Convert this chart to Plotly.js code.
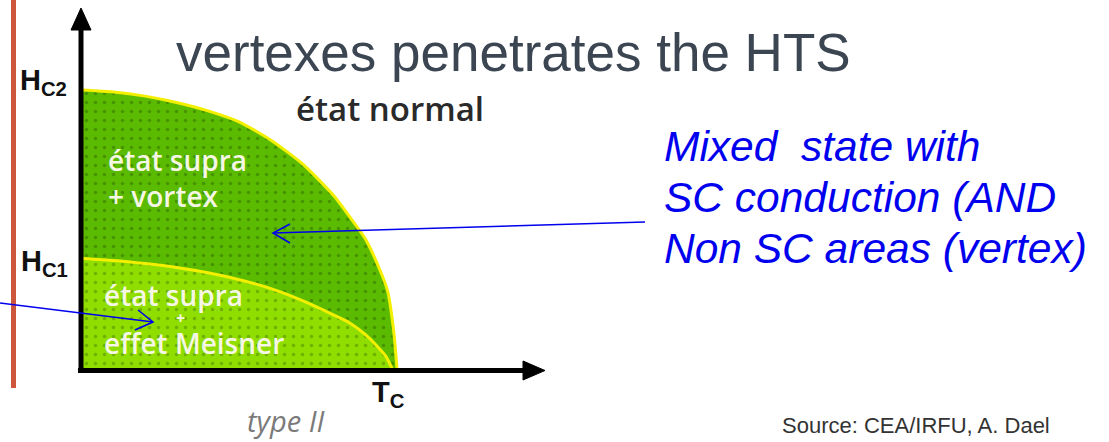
<!DOCTYPE html>
<html>
<head>
<meta charset="utf-8">
<script src="https://cdn.plot.ly/plotly-3.0.1.min.js"></script>
<style>html,body{margin:0;padding:0;background:#fff;}#chart{width:1109px;height:442px;}</style>
</head>
<body>
<div id="chart"></div>
<script>
// Phase diagram of a type II superconductor (T in % of Tc, H in % of Hc2)
const T_hc2 = [0, 10, 20, 30, 40, 50, 60, 70, 80, 85, 90, 94, 97, 99, 100];
const H_hc2 = [100, 99.3, 97.8, 95.5, 92.5, 88.5, 82, 73.5, 62, 54.5, 46.5, 37, 28, 13, 0];
const T_hc1 = [0, 10, 20, 30, 40, 50, 60, 70, 80, 85, 90, 94, 96.5, 98.5];
const H_hc1 = [39.6, 38.9, 37.8, 36.4, 34.5, 32, 28.8, 24.5, 19.3, 16.5, 12.3, 7.8, 4.5, 0];

const W = 1109, Hh = 442;
const px = x => x / W;
const py = y => 1 - y / Hh;

const traces = [
  {
    x: T_hc2, y: H_hc2, type: 'scatter', mode: 'lines',
    line: {color: '#f2f000', width: 3, shape: 'spline', smoothing: 0.6},
    fill: 'tozeroy', fillcolor: '#5cbd00',
    fillpattern: {shape: '.', bgcolor: '#5abb00', fgcolor: '#469300', size: 9, solidity: 0.12},
    hoverinfo: 'skip', showlegend: false
  },
  {
    x: T_hc1, y: H_hc1, type: 'scatter', mode: 'lines',
    line: {color: '#f2f000', width: 3, shape: 'spline', smoothing: 0.6},
    fill: 'tozeroy', fillcolor: '#8fde00',
    fillpattern: {shape: '.', bgcolor: '#8fde00', fgcolor: '#6fb000', size: 9, solidity: 0.12},
    hoverinfo: 'skip', showlegend: false
  }
];

const blue = '#0000ee';
const shapes = [
  // slide red bar
  {type: 'line', xref: 'paper', yref: 'paper', x0: px(13.5), x1: px(13.5), y0: py(0), y1: py(388), line: {color: '#cd573d', width: 5}},
  // vertical axis
  {type: 'line', xref: 'paper', yref: 'paper', x0: px(81), x1: px(81), y0: py(373), y1: py(26), line: {color: '#000', width: 5}},
  {type: 'path', xref: 'paper', yref: 'paper', path: `M ${px(81)} ${py(8)} L ${px(71)} ${py(30)} L ${px(91)} ${py(30)} Z`, fillcolor: '#000', line: {color: '#000', width: 1}},
  // horizontal axis
  {type: 'line', xref: 'paper', yref: 'paper', x0: px(78), x1: px(528), y0: py(370.5), y1: py(370.5), line: {color: '#000', width: 5}},
  {type: 'path', xref: 'paper', yref: 'paper', path: `M ${px(545)} ${py(370.5)} L ${px(523)} ${py(361)} L ${px(523)} ${py(380)} Z`, fillcolor: '#000', line: {color: '#000', width: 1}},
  // arrow 1 (mixed state)
  {type: 'line', xref: 'paper', yref: 'paper', x0: px(645), y0: py(222), x1: px(273), y1: py(233), line: {color: blue, width: 1.6}},
  {type: 'path', xref: 'paper', yref: 'paper', path: `M ${px(290)} ${py(224)} L ${px(273)} ${py(233)} L ${px(290)} ${py(243)}`, line: {color: blue, width: 1.6}},
  // arrow 2 (Meissner)
  {type: 'line', xref: 'paper', yref: 'paper', x0: px(0), y0: py(303), x1: px(153), y1: py(322), line: {color: blue, width: 1.6}},
  {type: 'path', xref: 'paper', yref: 'paper', path: `M ${px(138)} ${py(310)} L ${px(153)} ${py(322)} L ${px(135)} ${py(330)}`, line: {color: blue, width: 1.6}}
];

function ann(text, x, y, font, xanchor, yanchor) {
  return {text: text, xref: 'paper', yref: 'paper', x: px(x), y: py(y), xanchor: xanchor || 'left', yanchor: yanchor || 'middle', showarrow: false, font: font, align: 'left', borderpad: 0};
}
const labFont = {family: 'Liberation Sans, Arial, sans-serif', size: 29, color: '#111'};
const whiteFont = {family: 'Open Sans, sans-serif', size: 28, color: '#f6f6e4', weight: 600};
const blueFont = {family: 'Liberation Sans, Arial, sans-serif', size: 42.5, color: blue, style: 'italic'};

const annotations = [
  ann('<b>H<sub>C2</sub></b>', 19, 82, labFont),
  ann('<b>H<sub>C1</sub></b>', 20, 263, labFont),
  ann('<b>T<sub>C</sub></b>', 371, 394, labFont),
  ann('état normal', 295, 108, {family: 'Open Sans, sans-serif', size: 33, color: '#2a2a2a', weight: 600}),
  ann('état supra', 107, 160, whiteFont),
  ann('+ vortex', 107, 196, whiteFont),
  ann('état supra', 103, 295, whiteFont),
  ann('+', 180, 318, {family: 'Open Sans, sans-serif', size: 16, color: '#f6f6e4', weight: 700}, 'center'),
  ann('effet Meisner', 103, 343, whiteFont),
  ann('type II', 246, 441, {family: 'Open Sans, sans-serif', size: 29, color: '#7a7a7a', style: 'italic'}, 'left', 'bottom'),
  ann('vertexes penetrates the HTS', 175, 52, {family: 'Liberation Sans, Arial, sans-serif', size: 53, color: '#3c4652'}),
  ann('Mixed&nbsp; state with', 663, 147, blueFont),
  ann('SC conduction (AND', 663, 197, blueFont),
  ann('Non SC areas (vertex)', 663, 248, blueFont),
  ann('Source: CEA/IRFU, A. Dael', 781, 425, {family: 'Liberation Sans, Arial, sans-serif', size: 22, color: '#333'})
];

const layout = {
  width: W, height: Hh, autosize: false,
  margin: {l: 0, r: 0, t: 0, b: 0, pad: 0},
  paper_bgcolor: '#ffffff', plot_bgcolor: 'rgba(0,0,0,0)',
  showlegend: false,
  xaxis: {domain: [82 / W, 545 / W], range: [0, 146.98], visible: false, fixedrange: true},
  yaxis: {domain: [1 - 369 / Hh, 1 - 8 / Hh], range: [0, 129.39], visible: false, fixedrange: true},
  shapes: shapes,
  annotations: annotations
};

Plotly.newPlot('chart', traces, layout, {displayModeBar: false, staticPlot: true});
</script>
</body>
</html>
